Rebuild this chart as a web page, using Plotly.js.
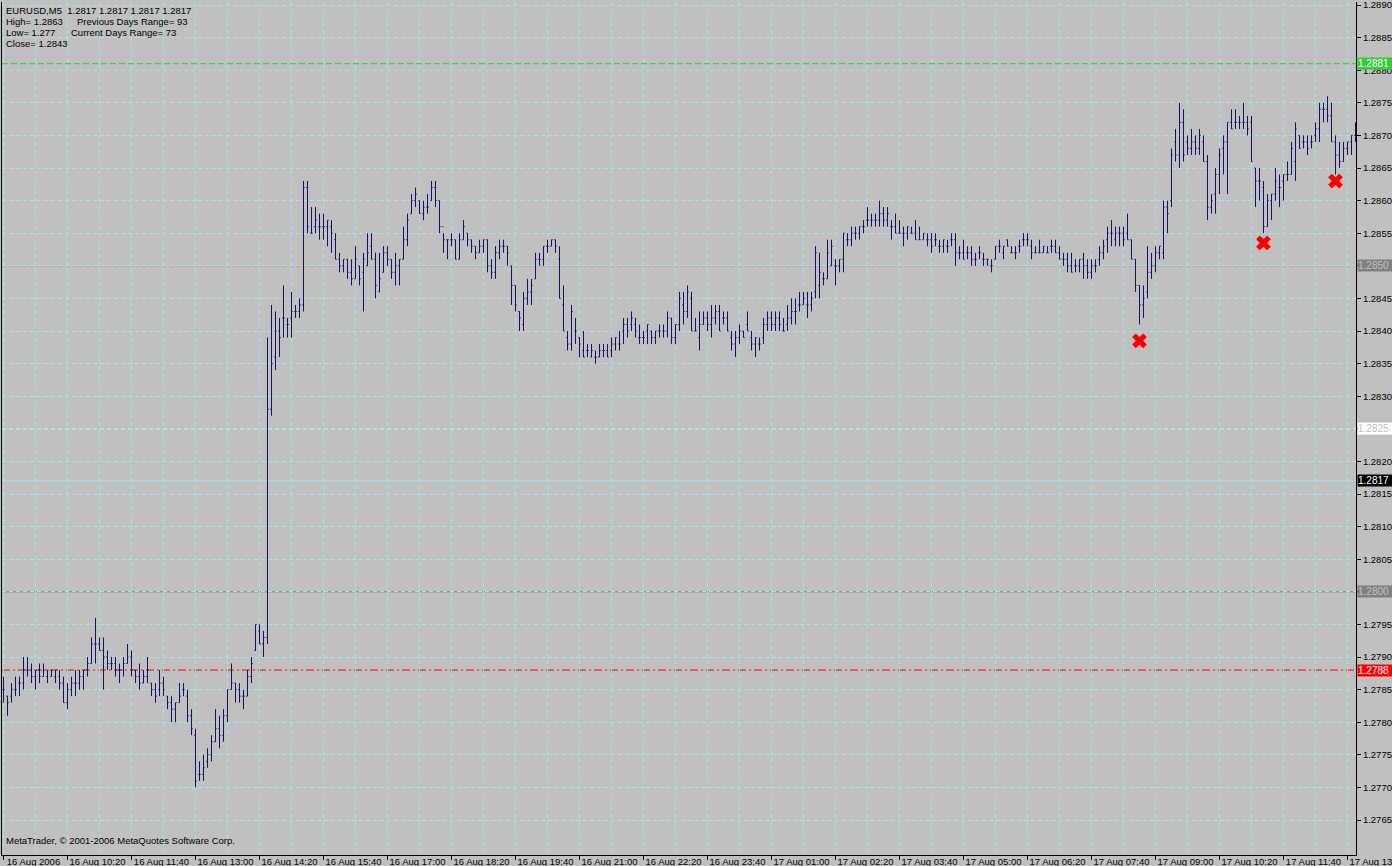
<!DOCTYPE html>
<html><head><meta charset="utf-8">
<script src="https://cdn.plot.ly/plotly-3.0.1.min.js"></script>
<style>html,body{margin:0;padding:0;background:#c0c0c0;overflow:hidden;} #chart{width:1392px;height:866px;}</style>
</head><body><div id="chart"></div>
<script>
// ---------- DATA ----------
const startTime = '2006-08-16 09:00';   // first M5 bar
const barMinutes = 5;

const openP = [
1.2785,1.2784,1.2784,1.2785,1.2786,1.2786,1.2788,1.2788,1.2787,1.2788,
1.2787,1.2787,1.2787,1.2787,1.2787,1.2786,1.2783,1.2785,1.2786,1.2786,
1.2787,1.2788,1.2789,1.2792,1.2792,1.2791,1.2790,1.2789,1.2789,1.2788,
1.2788,1.2789,1.2790,1.2788,1.2787,1.2786,1.2787,1.2786,1.2785,1.2785,
1.2786,1.2784,1.2783,1.2782,1.2783,1.2785,1.2784,1.2781,1.2778,1.2772,
1.2772,1.2774,1.2775,1.2777,1.2779,1.2778,1.2781,1.2785,1.2786,1.2785,
1.2784,1.2784,1.2787,1.2791,1.2794,1.2792,1.2793,1.2828,1.2836,1.2840,
1.2842,1.2841,1.2842,1.2843,1.2843,1.2844,1.2862,1.2855,1.2856,1.2856,
1.2856,1.2856,1.2856,1.2854,1.2851,1.2850,1.2851,1.2849,1.2848,1.2850,
1.2849,1.2850,1.2853,1.2851,1.2846,1.2849,1.2852,1.2851,1.2849,1.2850,
1.2851,1.2854,1.2858,1.2860,1.2860,1.2858,1.2859,1.2860,1.2862,1.2860,
1.2856,1.2854,1.2854,1.2854,1.2851,1.2854,1.2855,1.2854,1.2853,1.2852,
1.2853,1.2854,1.2850,1.2849,1.2852,1.2853,1.2853,1.2850,1.2847,1.2843,
1.2841,1.2845,1.2846,1.2848,1.2851,1.2851,1.2853,1.2853,1.2854,1.2851,
1.2844,1.2839,1.2838,1.2840,1.2839,1.2837,1.2837,1.2836,1.2836,1.2836,
1.2837,1.2837,1.2837,1.2838,1.2838,1.2840,1.2841,1.2841,1.2841,1.2839,
1.2839,1.2840,1.2840,1.2839,1.2840,1.2840,1.2840,1.2842,1.2839,1.2841,
1.2844,1.2843,1.2845,1.2840,1.2839,1.2841,1.2842,1.2841,1.2842,1.2843,
1.2842,1.2842,1.2839,1.2838,1.2839,1.2840,1.2841,1.2839,1.2838,1.2838,
1.2839,1.2841,1.2842,1.2841,1.2842,1.2840,1.2841,1.2842,1.2843,1.2844,
1.2844,1.2844,1.2844,1.2846,1.2847,1.2848,1.2848,1.2850,1.2850,1.2850,
1.2851,1.2854,1.2854,1.2855,1.2855,1.2856,1.2857,1.2857,1.2857,1.2857,
1.2858,1.2857,1.2856,1.2856,1.2855,1.2855,1.2855,1.2855,1.2855,1.2854,
1.2854,1.2854,1.2854,1.2854,1.2853,1.2853,1.2853,1.2854,1.2854,1.2852,
1.2852,1.2852,1.2852,1.2851,1.2852,1.2851,1.2851,1.2850,1.2851,1.2853,
1.2852,1.2854,1.2852,1.2852,1.2853,1.2854,1.2854,1.2853,1.2852,1.2852,
1.2852,1.2852,1.2853,1.2853,1.2852,1.2851,1.2851,1.2850,1.2850,1.2850,
1.2851,1.2850,1.2849,1.2850,1.2851,1.2852,1.2854,1.2855,1.2854,1.2855,
1.2855,1.2855,1.2854,1.2851,1.2847,1.2844,1.2846,1.2849,1.2850,1.2852,
1.2852,1.2859,1.2860,1.2869,1.2867,1.2872,1.2869,1.2868,1.2869,1.2868,
1.2869,1.2866,1.2859,1.2861,1.2864,1.2868,1.2869,1.2872,1.2872,1.2872,
1.2872,1.2872,1.2872,1.2865,1.2863,1.2862,1.2856,1.2860,1.2861,1.2862,
1.2863,1.2864,1.2864,1.2866,1.2870,1.2869,1.2869,1.2869,1.2870,1.2871,
1.2874,1.2874,1.2873,1.2869,1.2867,1.2866,1.2868,1.2869,1.2870];

const highP = [
1.2787,1.2784,1.2786,1.2787,1.2787,1.2790,1.2790,1.2789,1.2788,1.2789,
1.2789,1.2788,1.2788,1.2788,1.2788,1.2787,1.2786,1.2787,1.2788,1.2788,
1.2788,1.2790,1.2793,1.2796,1.2793,1.2793,1.2791,1.2790,1.2790,1.2789,
1.2790,1.2792,1.2791,1.2788,1.2789,1.2788,1.2790,1.2786,1.2786,1.2788,
1.2787,1.2784,1.2784,1.2783,1.2786,1.2786,1.2785,1.2782,1.2779,1.2774,
1.2775,1.2776,1.2778,1.2782,1.2781,1.2782,1.2785,1.2789,1.2786,1.2786,
1.2785,1.2788,1.2790,1.2795,1.2795,1.2794,1.2839,1.2844,1.2843,1.2842,
1.2847,1.2842,1.2846,1.2844,1.2845,1.2863,1.2863,1.2859,1.2859,1.2858,
1.2858,1.2857,1.2857,1.2855,1.2852,1.2851,1.2851,1.2851,1.2853,1.2850,
1.2852,1.2855,1.2855,1.2852,1.2852,1.2853,1.2853,1.2851,1.2852,1.2851,
1.2856,1.2858,1.2861,1.2862,1.2860,1.2860,1.2861,1.2863,1.2863,1.2860,
1.2855,1.2854,1.2855,1.2854,1.2855,1.2857,1.2855,1.2854,1.2853,1.2854,
1.2854,1.2854,1.2851,1.2853,1.2854,1.2854,1.2853,1.2850,1.2847,1.2843,
1.2846,1.2848,1.2848,1.2852,1.2852,1.2853,1.2854,1.2854,1.2854,1.2853,
1.2847,1.2840,1.2844,1.2842,1.2839,1.2840,1.2838,1.2838,1.2837,1.2838,
1.2838,1.2838,1.2839,1.2839,1.2840,1.2842,1.2842,1.2843,1.2842,1.2841,
1.2840,1.2841,1.2840,1.2840,1.2841,1.2841,1.2843,1.2842,1.2841,1.2846,
1.2846,1.2847,1.2846,1.2842,1.2843,1.2843,1.2843,1.2844,1.2844,1.2844,
1.2843,1.2843,1.2840,1.2840,1.2841,1.2840,1.2843,1.2840,1.2839,1.2839,
1.2842,1.2843,1.2843,1.2843,1.2843,1.2842,1.2844,1.2845,1.2845,1.2846,
1.2846,1.2846,1.2846,1.2853,1.2852,1.2849,1.2854,1.2854,1.2851,1.2851,
1.2855,1.2855,1.2856,1.2856,1.2856,1.2857,1.2859,1.2858,1.2858,1.2860,
1.2859,1.2859,1.2857,1.2858,1.2857,1.2856,1.2856,1.2856,1.2857,1.2856,
1.2855,1.2855,1.2855,1.2855,1.2854,1.2854,1.2854,1.2855,1.2855,1.2853,
1.2854,1.2853,1.2853,1.2852,1.2853,1.2852,1.2851,1.2851,1.2853,1.2854,
1.2853,1.2854,1.2853,1.2853,1.2854,1.2855,1.2855,1.2854,1.2853,1.2854,
1.2853,1.2853,1.2854,1.2854,1.2853,1.2852,1.2852,1.2852,1.2851,1.2851,
1.2852,1.2851,1.2851,1.2851,1.2853,1.2854,1.2856,1.2857,1.2856,1.2856,
1.2856,1.2858,1.2854,1.2851,1.2847,1.2847,1.2853,1.2852,1.2853,1.2853,
1.2860,1.2860,1.2868,1.2871,1.2875,1.2874,1.2870,1.2871,1.2870,1.2871,
1.2870,1.2867,1.2861,1.2865,1.2868,1.2870,1.2872,1.2874,1.2874,1.2873,
1.2875,1.2873,1.2873,1.2865,1.2865,1.2863,1.2861,1.2861,1.2865,1.2864,
1.2864,1.2866,1.2869,1.2872,1.2870,1.2870,1.2870,1.2870,1.2872,1.2875,
1.2875,1.2876,1.2875,1.2870,1.2869,1.2869,1.2869,1.2870,1.2872];

const lowP = [
1.2783,1.2781,1.2783,1.2784,1.2784,1.2785,1.2787,1.2786,1.2785,1.2786,
1.2787,1.2786,1.2787,1.2786,1.2785,1.2783,1.2782,1.2784,1.2784,1.2785,
1.2785,1.2787,1.2789,1.2789,1.2791,1.2785,1.2788,1.2788,1.2787,1.2786,
1.2787,1.2789,1.2787,1.2786,1.2785,1.2786,1.2786,1.2784,1.2783,1.2784,
1.2784,1.2782,1.2780,1.2780,1.2783,1.2784,1.2780,1.2778,1.2770,1.2771,
1.2771,1.2773,1.2774,1.2777,1.2776,1.2777,1.2780,1.2785,1.2783,1.2783,
1.2782,1.2784,1.2786,1.2791,1.2792,1.2790,1.2792,1.2827,1.2834,1.2836,
1.2839,1.2839,1.2839,1.2842,1.2842,1.2843,1.2855,1.2855,1.2855,1.2854,
1.2854,1.2853,1.2852,1.2851,1.2849,1.2849,1.2848,1.2847,1.2848,1.2847,
1.2843,1.2850,1.2851,1.2845,1.2846,1.2849,1.2850,1.2848,1.2847,1.2847,
1.2851,1.2853,1.2858,1.2859,1.2858,1.2857,1.2858,1.2860,1.2859,1.2855,
1.2852,1.2851,1.2853,1.2851,1.2851,1.2854,1.2853,1.2852,1.2851,1.2852,
1.2852,1.2849,1.2848,1.2848,1.2851,1.2852,1.2850,1.2844,1.2843,1.2840,
1.2840,1.2844,1.2844,1.2848,1.2850,1.2850,1.2852,1.2853,1.2852,1.2845,
1.2840,1.2837,1.2837,1.2838,1.2836,1.2836,1.2836,1.2836,1.2835,1.2836,
1.2836,1.2836,1.2836,1.2837,1.2837,1.2838,1.2839,1.2840,1.2839,1.2838,
1.2838,1.2838,1.2838,1.2838,1.2839,1.2839,1.2839,1.2838,1.2838,1.2840,
1.2841,1.2842,1.2840,1.2840,1.2837,1.2841,1.2840,1.2839,1.2841,1.2840,
1.2841,1.2840,1.2837,1.2836,1.2838,1.2839,1.2840,1.2837,1.2836,1.2837,
1.2838,1.2840,1.2840,1.2840,1.2840,1.2840,1.2840,1.2841,1.2841,1.2843,
1.2844,1.2842,1.2843,1.2845,1.2845,1.2847,1.2848,1.2850,1.2847,1.2849,
1.2849,1.2853,1.2853,1.2854,1.2854,1.2855,1.2856,1.2856,1.2856,1.2856,
1.2856,1.2856,1.2854,1.2855,1.2855,1.2853,1.2854,1.2855,1.2854,1.2854,
1.2854,1.2853,1.2852,1.2853,1.2852,1.2852,1.2852,1.2853,1.2850,1.2851,
1.2851,1.2851,1.2850,1.2850,1.2851,1.2850,1.2850,1.2849,1.2851,1.2852,
1.2851,1.2853,1.2852,1.2851,1.2852,1.2853,1.2853,1.2851,1.2852,1.2852,
1.2852,1.2852,1.2852,1.2852,1.2851,1.2850,1.2849,1.2849,1.2849,1.2849,
1.2848,1.2848,1.2848,1.2849,1.2850,1.2851,1.2852,1.2853,1.2853,1.2853,
1.2853,1.2854,1.2851,1.2846,1.2841,1.2842,1.2845,1.2848,1.2849,1.2851,
1.2851,1.2855,1.2859,1.2866,1.2865,1.2866,1.2867,1.2867,1.2867,1.2867,
1.2866,1.2857,1.2858,1.2858,1.2861,1.2864,1.2861,1.2871,1.2871,1.2871,
1.2871,1.2870,1.2866,1.2859,1.2860,1.2855,1.2856,1.2857,1.2860,1.2859,
1.2860,1.2863,1.2864,1.2863,1.2868,1.2868,1.2867,1.2868,1.2869,1.2869,
1.2872,1.2872,1.2869,1.2864,1.2865,1.2866,1.2867,1.2867,1.2869];

const closeP = [
1.2785,1.2783,1.2785,1.2785,1.2786,1.2788,1.2788,1.2787,1.2788,1.2787,
1.2788,1.2788,1.2788,1.2788,1.2786,1.2783,1.2785,1.2786,1.2786,1.2787,
1.2788,1.2789,1.2792,1.2792,1.2791,1.2790,1.2789,1.2789,1.2788,1.2788,
1.2789,1.2790,1.2788,1.2787,1.2786,1.2787,1.2788,1.2785,1.2784,1.2786,
1.2785,1.2783,1.2782,1.2783,1.2784,1.2785,1.2781,1.2779,1.2771,1.2772,
1.2773,1.2775,1.2777,1.2779,1.2778,1.2781,1.2785,1.2786,1.2785,1.2784,
1.2784,1.2787,1.2789,1.2795,1.2792,1.2793,1.2828,1.2835,1.2840,1.2839,
1.2842,1.2841,1.2843,1.2843,1.2844,1.2862,1.2856,1.2855,1.2857,1.2856,
1.2856,1.2857,1.2855,1.2851,1.2850,1.2851,1.2849,1.2848,1.2851,1.2848,
1.2851,1.2852,1.2851,1.2847,1.2848,1.2852,1.2851,1.2849,1.2850,1.2851,
1.2854,1.2857,1.2860,1.2861,1.2858,1.2859,1.2859,1.2862,1.2860,1.2856,
1.2854,1.2854,1.2854,1.2851,1.2854,1.2856,1.2854,1.2853,1.2852,1.2853,
1.2854,1.2850,1.2849,1.2852,1.2853,1.2853,1.2852,1.2847,1.2844,1.2842,
1.2845,1.2846,1.2847,1.2851,1.2851,1.2853,1.2853,1.2854,1.2853,1.2845,
1.2840,1.2838,1.2843,1.2840,1.2838,1.2836,1.2837,1.2837,1.2836,1.2837,
1.2837,1.2836,1.2838,1.2839,1.2838,1.2841,1.2840,1.2842,1.2840,1.2839,
1.2839,1.2841,1.2839,1.2840,1.2840,1.2840,1.2842,1.2839,1.2841,1.2845,
1.2843,1.2846,1.2840,1.2840,1.2841,1.2842,1.2841,1.2842,1.2843,1.2840,
1.2842,1.2840,1.2838,1.2839,1.2840,1.2839,1.2840,1.2838,1.2839,1.2838,
1.2841,1.2842,1.2841,1.2842,1.2841,1.2840,1.2842,1.2843,1.2843,1.2844,
1.2845,1.2844,1.2845,1.2852,1.2849,1.2848,1.2852,1.2853,1.2850,1.2851,
1.2855,1.2854,1.2855,1.2855,1.2856,1.2856,1.2857,1.2857,1.2857,1.2858,
1.2857,1.2858,1.2856,1.2855,1.2855,1.2855,1.2856,1.2855,1.2854,1.2854,
1.2855,1.2854,1.2853,1.2854,1.2853,1.2854,1.2853,1.2854,1.2852,1.2852,
1.2851,1.2852,1.2851,1.2851,1.2852,1.2851,1.2851,1.2850,1.2853,1.2853,
1.2853,1.2853,1.2852,1.2852,1.2853,1.2854,1.2854,1.2852,1.2852,1.2852,
1.2853,1.2852,1.2853,1.2852,1.2851,1.2851,1.2850,1.2849,1.2850,1.2851,
1.2850,1.2849,1.2850,1.2850,1.2852,1.2853,1.2855,1.2855,1.2855,1.2855,
1.2854,1.2854,1.2851,1.2847,1.2844,1.2845,1.2849,1.2850,1.2852,1.2853,
1.2859,1.2858,1.2867,1.2867,1.2872,1.2867,1.2868,1.2869,1.2868,1.2870,
1.2866,1.2859,1.2860,1.2864,1.2867,1.2869,1.2872,1.2871,1.2872,1.2872,
1.2872,1.2871,1.2866,1.2863,1.2863,1.2856,1.2860,1.2861,1.2863,1.2862,
1.2864,1.2864,1.2868,1.2871,1.2868,1.2869,1.2868,1.2869,1.2871,1.2874,
1.2874,1.2873,1.2869,1.2867,1.2866,1.2868,1.2869,1.2870,1.2871];

const tickTimes = ['2006-08-16 09:00','2006-08-16 10:20','2006-08-16 11:40','2006-08-16 13:00',
  '2006-08-16 14:20','2006-08-16 15:40','2006-08-16 17:00','2006-08-16 18:20','2006-08-16 19:40',
  '2006-08-16 21:00','2006-08-16 22:20','2006-08-16 23:40','2006-08-17 01:00','2006-08-17 02:20',
  '2006-08-17 03:40','2006-08-17 05:00','2006-08-17 06:20','2006-08-17 07:40','2006-08-17 09:00',
  '2006-08-17 10:20','2006-08-17 11:40','2006-08-17 13:00'];
const tickLabels = ['16 Aug 2006','16 Aug 10:20','16 Aug 11:40','16 Aug 13:00','16 Aug 14:20',
  '16 Aug 15:40','16 Aug 17:00','16 Aug 18:20','16 Aug 19:40','16 Aug 21:00','16 Aug 22:20',
  '16 Aug 23:40','17 Aug 01:00','17 Aug 02:20','17 Aug 03:40','17 Aug 05:00','17 Aug 06:20',
  '17 Aug 07:40','17 Aug 09:00','17 Aug 10:20','17 Aug 11:40','17 Aug 13:00'];

const priceTicks = [1.2765,1.2770,1.2775,1.2780,1.2785,1.2790,1.2795,1.2800,1.2805,1.2810,
  1.2815,1.2820,1.2825,1.2830,1.2835,1.2840,1.2845,1.2850,1.2855,1.2860,1.2865,1.2870,
  1.2875,1.2880,1.2885,1.2890];
const priceTickLabels = ['1.2765','1.2770','1.2775','1.2780','1.2785','1.2790','1.2795','','1.2805',
  '1.2810','1.2815','1.2820','','1.2830','1.2835','1.2840','1.2845','','1.2855','1.2860',
  '1.2865','1.2870','1.2875','1.2880','1.2885','1.2890'];

const levelPrices = [1.2881, 1.2850, 1.2825, 1.2817, 1.2800, 1.2788];
const levelLabels = ['1.2881','1.2850','1.2825','1.2817','1.2800','1.2788'];

const markTimes  = ['2006-08-17 08:40','2006-08-17 11:15','2006-08-17 12:45'];
const markPrices = [1.28385, 1.28535, 1.2863];

const headerLines = [
  'EURUSD,M5  1.2817 1.2817 1.2817 1.2817',
  'High= 1.2863', 'Previous Days Range= 93',
  'Low= 1.277', 'Current Days Range= 73',
  'Close= 1.2843'];
const footerText = 'MetaTrader, © 2001-2006 MetaQuotes Software Corp.';

// ---------- BUILD ----------
function pad(n){return (n<10?'0':'')+n;}
function fmt(ms){const d=new Date(ms);
  return d.getUTCFullYear()+'-'+pad(d.getUTCMonth()+1)+'-'+pad(d.getUTCDate())+' '+
    pad(d.getUTCHours())+':'+pad(d.getUTCMinutes())+':'+pad(d.getUTCSeconds())+'.'+String(d.getUTCMilliseconds()).padStart(3,'0');}
const t0ms = Date.UTC(2006,7,16,9,0);
const step = barMinutes*60000;
const times = openP.map((_,i)=>fmt(t0ms+i*step));

const W = 1392, H = 866;
const M = {l:2, r:36, t:2, b:11};
const PW = W-M.l-M.r, PH = H-M.t-M.b;
const pxX = x => (x-M.l)/PW;
const pxY = y => 1-(y-M.t)/PH;

const GRID = '#a4e4e4';
const BAR = '#141464';

const traces = [{
  type:'ohlc', x:times, open:openP, high:highP, low:lowP, close:closeP,
  increasing:{line:{color:BAR,width:1}}, decreasing:{line:{color:BAR,width:1}},
  tickwidth:0.3, hoverinfo:'skip', showlegend:false
},{
  type:'scatter', mode:'markers', x:markTimes, y:markPrices,
  marker:{symbol:'x', size:13, color:'#ff0000', line:{width:0}},
  hoverinfo:'skip', showlegend:false
}];

const lineStyles = [
  {color:'#22dd22', dash:'6px,3px'},
  {color:'#808080', dash:'4px,3px'},
  {color:'#ffffff', dash:'4px,3px'},
  {color:'#a4e4e4', dash:'solid'},
  {color:'#808080', dash:'solid'},
  {color:'#ff0000', dash:'8px,3px,2px,3px'}];
const boxStyles = [
  {bg:'#32cd32', fg:'#ffffff'},
  {bg:'#808080', fg:'#c0c0c0'},
  {bg:'#ffffff', fg:'#c0c0c0'},
  {bg:'#000000', fg:'#ffffff'},
  {bg:'#808080', fg:'#c0c0c0'},
  {bg:'#ff0000', fg:'#ffffff'}];

const shapes = levelPrices.map((p,i)=>({
  type:'line', xref:'paper', x0:0, x1:1, yref:'y', y0:p, y1:p, layer:'below',
  line:{color:lineStyles[i].color, width:1, dash:lineStyles[i].dash}}));

const FONT = 'Liberation Sans, Arial, sans-serif';
const annotations = levelPrices.map((p,i)=>({
  xref:'paper', x:1, xanchor:'left', xshift:1, yref:'y', y:p, yanchor:'middle',
  text:levelLabels[i], showarrow:false, bgcolor:boxStyles[i].bg, borderpad:0,
  font:{family:FONT, size:10, color:boxStyles[i].fg}, width:34, align:'left'}));

function txt(t,x,y){return {xref:'paper', yref:'paper', x:pxX(x), y:pxY(y), xanchor:'left', yanchor:'middle',
  text:t, showarrow:false, font:{family:FONT, size:9.5, color:'#000'}};}
annotations.push(txt(headerLines[0],4,10.5));
annotations.push(txt(headerLines[1],4,21));
annotations.push(txt(headerLines[2],75,21));
annotations.push(txt(headerLines[3],4,32.5));
annotations.push(txt(headerLines[4],69,32.5));
annotations.push(txt(headerLines[5],4,44));
annotations.push(txt(footerText,4,840));

const xr0 = t0ms - 1.5/4*step;
const xr1 = xr0 + (PW/4)*step;

const layout = {
  width:W, height:H, margin:M,
  paper_bgcolor:'#c0c0c0', plot_bgcolor:'#c0c0c0',
  showlegend:false, dragmode:false,
  xaxis:{type:'date', range:[fmt(xr0), fmt(xr1)], rangeslider:{visible:false},
    tickmode:'array', tickvals:tickTimes, ticktext:tickLabels,
    ticks:'outside', ticklen:4, tickcolor:'#000', tickwidth:1,
    tickfont:{family:FONT, size:9.5, color:'#000'}, ticklabelshift:30, ticklabelstandoff:-6,
    ticklabeloverflow:'allow',
    showline:true, linecolor:'#000', linewidth:1,
    showgrid:true, gridcolor:GRID, griddash:'4px,3px', gridwidth:1,
    minor:{dtick:8*step, tick0:startTime, showgrid:true, gridcolor:GRID, griddash:'4px,3px', gridwidth:1, ticks:''},
    zeroline:false, fixedrange:true},
  yaxis:{side:'right', range:[1.2890-850/65200, 1.2890+3/65200],
    tickmode:'array', tickvals:priceTicks, ticktext:priceTickLabels,
    ticks:'outside', ticklen:4, tickcolor:'#000', tickwidth:1, ticklabeloverflow:'allow',
    tickfont:{family:FONT, size:9.5, color:'#000'},
    showline:true, linecolor:'#000', linewidth:1, mirror:true,
    showgrid:true, gridcolor:GRID, griddash:'4px,3px', gridwidth:1,
    zeroline:false, fixedrange:true},
  shapes:shapes, annotations:annotations
};

Plotly.newPlot('chart', traces, layout, {staticPlot:true, displayModeBar:false});
</script>
</body></html>
